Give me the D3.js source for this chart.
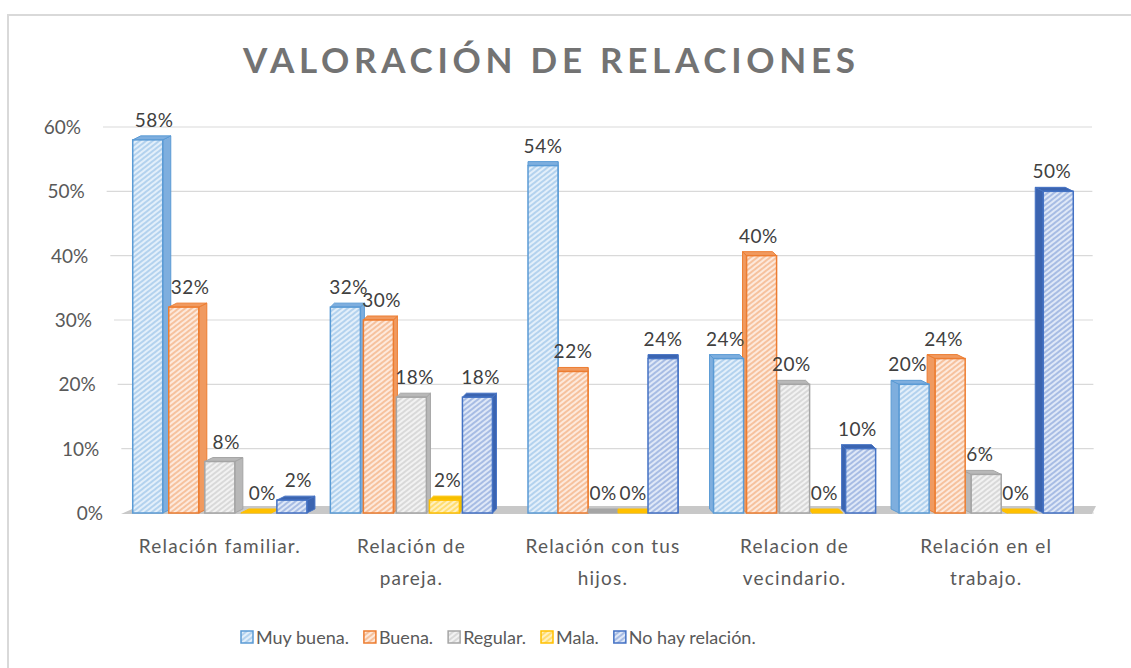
<!DOCTYPE html>
<html>
<head>
<meta charset="utf-8">
<script src="https://cdn.jsdelivr.net/npm/d3@7"></script>
<style>
  body { margin: 0; background: #fff; }
  text { font-family: Lato, "Noto Sans", sans-serif; }
</style>
</head>
<body>
<div id="chart"></div>
<script>
// Chart size
var w = 1131;
var h = 668;

// Data
var categories = ["Relación familiar.", "Relación de pareja.", "Relación con tus hijos.", "Relacion de vecindario.", "Relación en el trabajo."];
var categoryLines = [["Relación familiar."], ["Relación de", "pareja."], ["Relación con tus", "hijos."], ["Relacion de", "vecindario."], ["Relación en el", "trabajo."]];
var seriesNames = ["Muy buena.", "Buena.", "Regular.", "Mala.", "No hay relación."];
var muyBuena = [0.58, 0.32, 0.54, 0.24, 0.20];
var buena    = [0.32, 0.30, 0.22, 0.40, 0.24];
var regular  = [0.08, 0.18, 0.00, 0.20, 0.06];
var mala     = [0.00, 0.02, 0.00, 0.00, 0.00];
var noHay    = [0.02, 0.18, 0.24, 0.10, 0.50];
var yTicks   = [0, 0.1, 0.2, 0.3, 0.4, 0.5, 0.6];

var seriesValues = [muyBuena, buena, regular, mala, noHay];

// Colours for each series: background, hatch, edge, side face
var palette = [
    { bg: "#e3effa", hatch: "#9fc6ea", edge: "#5b9bd5", side: "#7eaede" },
    { bg: "#fde9dc", hatch: "#f4b183", edge: "#ed7d31", side: "#f09a60" },
    { bg: "#f2f2f2", hatch: "#cfcfcf", edge: "#a5a5a5", side: "#b8b8b8" },
    { bg: "#fff0c0", hatch: "#ffd54f", edge: "#ffc000", side: "#f5c000" },
    { bg: "#dfe8f7", hatch: "#8faadc", edge: "#4472c4", side: "#3b64b0" }
];

var svg = d3.select("#chart")
    .append("svg")
    .attr("width", w)
    .attr("height", h)
    .style("background", "#fff");

// Chart border (only the top and left edges are visible)
svg.append("path")
    .attr("d", "M8," + h + "V15H" + w)
    .attr("fill", "none")
    .attr("stroke", "#d9d9d9")
    .attr("stroke-width", 2);

// Hatch patterns
var defs = svg.append("defs");
palette.forEach(function (c, i) {
    var p = defs.append("pattern")
        .attr("id", "hatch" + i)
        .attr("patternUnits", "userSpaceOnUse")
        .attr("width", 4)
        .attr("height", 4)
        .attr("patternTransform", "rotate(52)");
    p.append("rect").attr("width", 4).attr("height", 4).attr("fill", c.bg);
    p.append("line")
        .attr("x1", 1).attr("y1", 0).attr("x2", 1).attr("y2", 4)
        .attr("stroke", c.hatch)
        .attr("stroke-width", 1.4);
});

// Scales
var x0 = d3.scaleBand()
    .domain(categories)
    .range([124, 1082]);

var xs = d3.scalePoint()
    .domain(seriesNames)
    .range([-2, 2]);

var y = d3.scaleLinear()
    .domain([0, 0.6])
    .range([513, 127]);

var barW = 30;
var depth = 4;
var mid = (x0.range()[0] + x0.range()[1]) / 2;

// side offset grows with the distance from the centre (fake perspective)
function sideOffset(cat) {
    var cx = x0(cat) + x0.bandwidth() / 2;
    return (mid - cx) * 0.021;
}

// left wall position, slants with value
function wallX(v) {
    return 125 - (v / 0.6) * 22;
}

// Gridlines
svg.append("g")
    .selectAll("line")
    .data(yTicks)
    .enter()
    .append("line")
    .attr("x1", function (d) { return wallX(d); })
    .attr("x2", function (d) { return 1094 - (d / 0.6) * 2; })
    .attr("y1", function (d) { return y(d); })
    .attr("y2", function (d) { return y(d); })
    .attr("stroke", "#d9d9d9")
    .attr("stroke-width", 1.2);

// Tick labels
svg.append("g")
    .selectAll("text")
    .data(yTicks)
    .enter()
    .append("text")
    .attr("x", function (d) { return wallX(d) - 22; })
    .attr("y", function (d) { return y(d) + 7; })
    .attr("text-anchor", "end")
    .attr("fill", "#595959")
    .style("font-size", "19px")
    .text(d3.format(".0%"));

// Floor
var y0 = y(0);
svg.append("path")
    .attr("d", "M" + (wallX(0) - 4) + "," + (y0 + 1) + "L1092," + (y0 + 1) + "L1096," + (y0 - 7) + "L" + (wallX(0) + 14) + "," + (y0 - 7) + "Z")
    .attr("fill", "#c8c8c8");

// Bars
var bars = [];
categories.forEach(function (cat, ci) {
    var dx = sideOffset(cat);
    var step = barW + Math.abs(dx) * 0.75;
    var cx = x0(cat) + x0.bandwidth() / 2;
    var row = seriesNames.map(function (s, si) {
        return {
            cat: cat, si: si, value: seriesValues[si][ci], dx: dx,
            x: cx + xs(s) * step - barW / 2
        };
    });
    if (dx < 0) row.reverse();
    bars = bars.concat(row);
});

var barG = svg.append("g")
    .selectAll("g")
    .data(bars)
    .enter()
    .append("g");

// side face
barG.append("path")
    .attr("d", function (d) {
        var top = y(d.value), base = y(0);
        var ex = d.dx >= 0 ? d.x + barW : d.x;
        return "M" + ex + "," + top + "L" + (ex + d.dx) + "," + (top - depth) +
            "L" + (ex + d.dx) + "," + (base - depth) + "L" + ex + "," + base + "Z";
    })
    .attr("fill", function (d) { return palette[d.si].side; })
    .attr("stroke", function (d) { return palette[d.si].edge; })
    .attr("stroke-width", 1);

// top face
barG.append("path")
    .attr("d", function (d) {
        var top = y(d.value);
        return "M" + d.x + "," + top + "L" + (d.x + barW) + "," + top +
            "L" + (d.x + barW + d.dx) + "," + (top - depth) + "L" + (d.x + d.dx) + "," + (top - depth) + "Z";
    })
    .attr("fill", function (d) { return d.value === 0 ? palette[d.si].edge : palette[d.si].side; })
    .attr("stroke", function (d) { return palette[d.si].edge; })
    .attr("stroke-width", 1);

// front face
barG.filter(function (d) { return d.value > 0; })
    .append("rect")
    .attr("x", function (d) { return d.x; })
    .attr("y", function (d) { return y(d.value); })
    .attr("width", barW)
    .attr("height", function (d) { return y(0) - y(d.value); })
    .attr("fill", function (d) { return "url(#hatch" + d.si + ")"; })
    .attr("stroke", function (d) { return palette[d.si].edge; })
    .attr("stroke-width", 1.5);

// Data labels
svg.append("g")
    .selectAll("text")
    .data(bars)
    .enter()
    .append("text")
    .attr("x", function (d) { return d.x + barW / 2 + d.dx * 0.8; })
    .attr("y", function (d) { return y(d.value) - depth - 9; })
    .attr("text-anchor", "middle")
    .attr("fill", "#404040")
    .style("font-size", "19px")
    .style("letter-spacing", "0.5px")
    .text(function (d) { return d3.format(".0%")(d.value); });

// Category labels
var catG = svg.append("g")
    .selectAll("text")
    .data(categories)
    .enter()
    .append("text")
    .attr("text-anchor", "middle")
    .attr("fill", "#595959")
    .style("font-size", "19px")
    .style("letter-spacing", "1.2px")
    .attr("x", function (d) { return x0(d) + x0.bandwidth() / 2; })
    .attr("y", 553);

catG.selectAll("tspan")
    .data(function (d, i) { return categoryLines[i]; })
    .enter()
    .append("tspan")
    .attr("x", function () { return d3.select(this.parentNode).attr("x"); })
    .attr("dy", function (d, i) { return i === 0 ? 0 : 32; })
    .text(function (d) { return d; });

// Title
svg.append("text")
    .attr("x", 549)
    .attr("y", 73)
    .attr("text-anchor", "middle")
    .attr("fill", "#737373")
    .style("font-size", "35px")
    .style("font-weight", "bold")
    .attr("textLength", 612)
    .attr("lengthAdjust", "spacing")
    .text("VALORACIÓN DE RELACIONES");

// Legend
var legend = svg.append("g").attr("transform", "translate(241,0)");
var lx = 0;
seriesNames.forEach(function (s, i) {
    var item = legend.append("g").attr("transform", "translate(" + lx + ",0)");
    item.append("rect")
        .attr("x", 0).attr("y", 631)
        .attr("width", 12).attr("height", 12)
        .attr("fill", "url(#hatch" + i + ")")
        .attr("stroke", palette[i].edge)
        .attr("stroke-width", 1.5);
    var t = item.append("text")
        .attr("x", 15)
        .attr("y", 644)
        .attr("fill", "#595959")
        .style("font-size", "18px")
        .text(s);
    lx += 15 + t.node().getComputedTextLength() + 15;
});
</script>
</body>
</html>
